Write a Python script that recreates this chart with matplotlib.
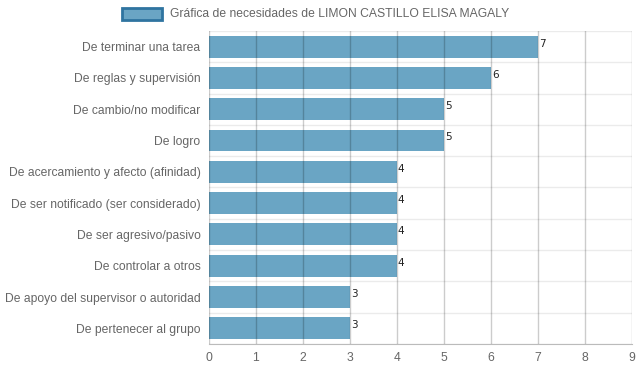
import matplotlib.pyplot as plt
import numpy as np
from matplotlib.patches import Rectangle

categorias = ["De terminar una tarea", "De reglas y supervisión", "De cambio/no modificar",
              "De logro", "De acercamiento y afecto (afinidad)", "De ser notificado (ser considerado)",
              "De ser agresivo/pasivo", "De controlar a otros", "De apoyo del supervisor o autoridad",
              "De pertenecer al grupo"]
valores = [7, 6, 5, 5, 4, 4, 4, 4, 3, 3]
leyenda = "Gráfica de necesidades de LIMON CASTILLO ELISA MAGALY"

plt.rcParams['font.family'] = ['Liberation Sans', 'DejaVu Sans']

fig = plt.figure(figsize=(6.39, 3.72), dpi=100)
ax = fig.add_axes([0.327, 0.0753, 0.662, 0.8414])

y = np.arange(len(categorias))
ax.barh(y, valores, height=0.7, color='#6aa5c4', zorder=2, label=leyenda)

# numeros al final de cada barra
for yi, v in zip(y, valores):
    ax.text(v + 0.02, yi - 0.1, str(v), fontsize=7.5, color='#222222', va='center', ha='left',
            zorder=4, family='DejaVu Sans')

ax.set_xlim(0, 9)
ax.set_ylim(len(categorias) - 0.5, -0.5)
ax.set_xticks(range(10))
ax.set_yticks(y)
ax.set_yticklabels(categorias)
ax.set_yticks(np.arange(len(categorias) + 1) - 0.5, minor=True)

ax.tick_params(axis='both', colors='#666666', labelsize=8.7, length=0, pad=6)
ax.tick_params(axis='y', which='minor', length=0)

for xv in range(10):
    ax.axvline(xv, color='black', alpha=0.2, linewidth=1, zorder=3)
ax.grid(axis='y', which='minor', color='#ebebeb', linewidth=1, zorder=1)

for s in ['top', 'right', 'left']:
    ax.spines[s].set_visible(False)
ax.spines['bottom'].set_color('#bbbbbb')

# leyenda
fig.patches.append(Rectangle((122 / 639, 1 - 20 / 372), 40 / 639, 12 / 372, transform=fig.transFigure,
                             facecolor='#6aa5c4', edgecolor='#2f74a0', linewidth=2))
fig.text(170 / 639, 1 - 14 / 372, leyenda, fontsize=8.7, color='#666666', va='center', ha='left')

fig.savefig('out.png', dpi=100)
